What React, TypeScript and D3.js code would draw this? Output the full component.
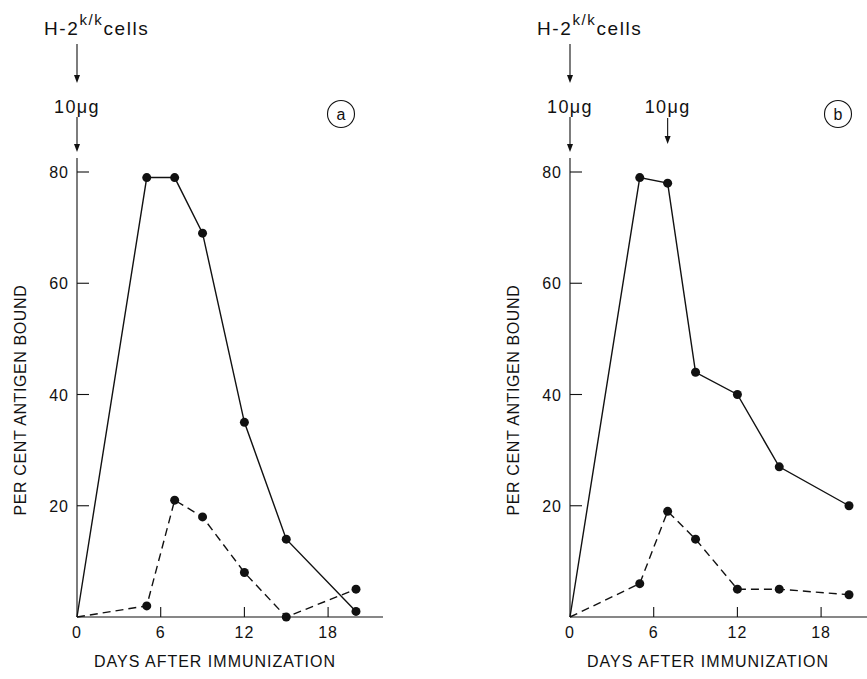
import React, { useEffect, useRef } from "react";
import * as d3 from "d3";

// Days after immunization (same sampling days in both panels)
const days = [0, 5, 7, 9, 12, 15, 20];

// Panel (a): single 10 µg dose
const solidA = [0, 79, 79, 69, 35, 14, 1];
const dashedA = [0, 2, 21, 18, 8, 0, 5];

// Panel (b): 10 µg at day 0 and again at day 7
const solidB = [0, 79, 78, 44, 40, 27, 20];
const dashedB = [0, 6, 19, 14, 5, 5, 4];

const xTicks = [6, 12, 18];
const yTicks = [20, 40, 60, 80];
const panelLetters = ["a", "b"];
const boostDays = [[], [7]];

const W = 867;
const H = 679;
const FONT = "'Liberation Sans', 'DejaVu Sans', sans-serif";

const App = () => {
  const svgRef = useRef(null);

  useEffect(() => {
    const svg = d3.select(svgRef.current);
    svg.selectAll("*").remove();

    const panels = [
      { x0: 77, xEnd: 383, solid: solidA, dashed: dashedA },
      { x0: 570, xEnd: 867, solid: solidB, dashed: dashedB },
    ];

    const y = d3.scaleLinear().domain([0, 80]).range([617, 172]);
    const axisTop = 158;

    panels.forEach((p, i) => {
      const x = d3.scaleLinear().domain([0, 20]).range([p.x0, p.x0 + 279]);
      const g = svg.append("g");

      // axes lines
      g.append("line")
        .attr("x1", p.x0).attr("x2", p.x0)
        .attr("y1", axisTop).attr("y2", y(0))
        .attr("stroke", "#111").attr("stroke-width", 1.1);
      g.append("line")
        .attr("x1", p.x0).attr("x2", p.xEnd)
        .attr("y1", y(0)).attr("y2", y(0))
        .attr("stroke", "#111").attr("stroke-width", 1.1);

      // inward ticks
      xTicks.forEach((t) => {
        g.append("line")
          .attr("x1", x(t)).attr("x2", x(t))
          .attr("y1", y(0)).attr("y2", y(0) - 10)
          .attr("stroke", "#111").attr("stroke-width", 1.1);
      });
      yTicks.forEach((t) => {
        g.append("line")
          .attr("x1", p.x0).attr("x2", p.x0 + 12)
          .attr("y1", y(t)).attr("y2", y(t))
          .attr("stroke", "#111").attr("stroke-width", 1.1);
        g.append("text")
          .attr("x", p.x0 - 8).attr("y", y(t) + 6)
          .attr("text-anchor", "end")
          .attr("font-size", 16)
          .attr("letter-spacing", 1)
          .text(t);
      });
      [0, ...xTicks].forEach((t) => {
        g.append("text")
          .attr("x", x(t)).attr("y", y(0) + 21)
          .attr("text-anchor", "middle")
          .attr("font-size", 16)
          .attr("letter-spacing", 1)
          .text(t);
      });

      // axis titles
      g.append("text")
        .attr("x", p.x0 + 138).attr("y", 667)
        .attr("text-anchor", "middle")
        .attr("font-size", 16)
        .attr("letter-spacing", 1)
        .text("DAYS AFTER IMMUNIZATION");
      g.append("text")
        .attr("transform", `translate(${p.x0 - 51},${y(39)}) rotate(-90)`)
        .attr("text-anchor", "middle")
        .attr("font-size", 16)
        .attr("letter-spacing", 0.6)
        .text("PER CENT ANTIGEN BOUND");

      // lines
      const line = d3
        .line()
        .x((d) => x(d[0]))
        .y((d) => y(d[1]));
      const solidPts = days.map((d, k) => [d, p.solid[k]]);
      const dashedPts = days.map((d, k) => [d, p.dashed[k]]);

      g.append("path")
        .datum(solidPts)
        .attr("fill", "none")
        .attr("stroke", "#111")
        .attr("stroke-width", 1.4)
        .attr("d", line);
      g.append("path")
        .datum(dashedPts)
        .attr("fill", "none")
        .attr("stroke", "#111")
        .attr("stroke-width", 1.4)
        .attr("stroke-dasharray", "8,5")
        .attr("d", line);

      [solidPts, dashedPts].forEach((pts) => {
        g.selectAll(null)
          .data(pts.slice(1))
          .enter()
          .append("circle")
          .attr("cx", (d) => x(d[0]))
          .attr("cy", (d) => y(d[1]))
          .attr("r", 4.5)
          .attr("fill", "#111");
      });

      // annotations: cells arrow and dose arrows
      const arrow = (ax, y1, y2) => {
        g.append("line")
          .attr("x1", ax).attr("x2", ax)
          .attr("y1", y1).attr("y2", y2 - 6)
          .attr("stroke", "#111").attr("stroke-width", 1.1);
        g.append("path")
          .attr("d", `M${ax - 3},${y2 - 8} L${ax + 3},${y2 - 8} L${ax},${y2} Z`)
          .attr("fill", "#111");
      };

      const cells = g.append("text")
        .attr("x", p.x0 - 33).attr("y", 35)
        .attr("font-size", 19)
        .attr("letter-spacing", 1.6);
      cells.append("tspan").text("H-2");
      cells.append("tspan").attr("font-size", 15).attr("dy", -10).text("k/k");
      cells.append("tspan").attr("dy", 10).text("cells");

      arrow(x(0), 44, 83);

      g.append("text")
        .attr("x", x(0)).attr("y", 113)
        .attr("text-anchor", "middle")
        .attr("font-size", 18)
        .attr("letter-spacing", 1.4)
        .text("10\u03bcg");
      arrow(x(0), 117, 152);

      boostDays[i].forEach((bd) => {
        g.append("text")
          .attr("x", x(bd)).attr("y", 113)
          .attr("text-anchor", "middle")
          .attr("font-size", 18)
          .attr("letter-spacing", 1.4)
          .text("10\u03bcg");
        arrow(x(bd), 118, 144);
      });

      // panel letter
      const lx = i === 0 ? 341 : 838;
      g.append("circle")
        .attr("cx", lx).attr("cy", 114).attr("r", 13.5)
        .attr("fill", "none").attr("stroke", "#111").attr("stroke-width", 1.1);
      g.append("text")
        .attr("x", lx).attr("y", 120)
        .attr("text-anchor", "middle")
        .attr("font-size", 16)
        .text(panelLetters[i]);
    });
  }, []);

  return (
    <svg
      ref={svgRef}
      width={W}
      height={H}
      style={{ position: "absolute", left: 0, top: 0, background: "#fff", fontFamily: FONT, fill: "#111" }}
    />
  );
};

export default App;
